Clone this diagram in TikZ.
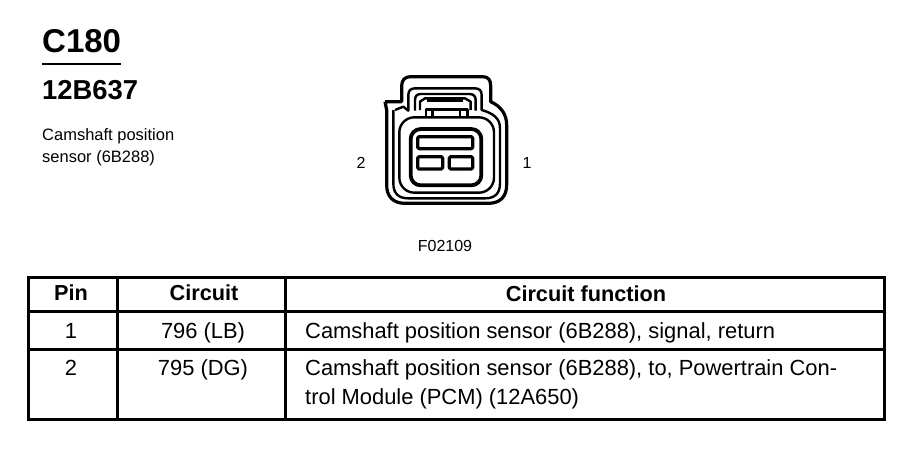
\documentclass[tikz,border=0pt]{standalone}
\usepackage{fontspec}
\setmainfont{Liberation Sans}
\tikzset{
  title/.style={font=\fontsize{33}{33}\selectfont\bfseries,anchor=base west,inner sep=0pt},
  sub/.style={font=\fontsize{27.4}{27.4}\selectfont\bfseries,anchor=base west,inner sep=0pt},
  small/.style={font=\fontsize{16.5}{16.5}\selectfont,anchor=base west,inner sep=0pt},
  tiny/.style={font=\fontsize{16}{16}\selectfont,anchor=base,inner sep=0pt},
  head/.style={font=\fontsize{21.7}{21.7}\selectfont\bfseries,anchor=base,inner sep=0pt},
  cell/.style={font=\fontsize{21.9}{21.9}\selectfont,anchor=base,inner sep=0pt},
  celll/.style={font=\fontsize{21.9}{21.9}\selectfont,anchor=base west,inner sep=0pt},
  rule/.style={line width=3pt},
  conn/.style={line width=3.2pt,line join=round},
  connt/.style={line width=2.4pt,line join=round}
}
\begin{document}
\begin{tikzpicture}[x=1pt,y=-1pt]
\useasboundingbox (0,0) rectangle (908,448);
\fill[white] (0,0) rectangle (908,448);
\node[title] (c180) at (42,52) {C180};
\draw[line width=1.6pt] (42,64) -- (121,64);
\node[sub] (code) at (42,99) {12B637};
\node[small] (cam1) at (42,140) {Camshaft position};
\node[small] (cam2) at (42,162) {sensor (6B288)};
\node[tiny] (p2) at (361,168) {2};
\node[tiny] (p1) at (527,168) {1};
\node[tiny] (fig) at (445,251) {F02109};
% connector
\begin{scope}[shift={(360,60)},x=1pt/3,y=-1pt/3]
\draw[conn] (75,125) -- (125,125) -- (125,78) .. controls (125,60) and (135,50) .. (152,50) -- (368,50) .. controls (385,50) and (392,60) .. (392,78) -- (392,125) .. controls (425,140) and (440,165) .. (440,195) -- (440,375) .. controls (440,410) and (420,430) .. (385,430) -- (135,430) .. controls (100,430) and (80,410) .. (80,375) -- (80,150) -- (75,125);
\draw[connt] (105,150) -- (130,140) -- (145,152) -- (145,105) .. controls (145,92) and (152,85) .. (165,85) -- (345,85) .. controls (358,85) and (365,92) .. (365,105) -- (365,150) .. controls (400,160) and (420,175) .. (420,205) -- (420,370) .. controls (420,400) and (405,415) .. (375,415) -- (145,415) .. controls (115,415) and (100,400) .. (100,370) -- (100,150);
\draw[connt] (165,152) -- (165,120) .. controls (165,108) and (172,102) .. (182,102) -- (328,102) .. controls (340,102) and (347,108) .. (347,120) -- (347,152);
\draw[connt] (180,150) -- (180,125) -- (195,115) -- (315,115) -- (332,125) -- (332,150);
\draw[connt] (200,122) -- (310,122);
\draw[connt] (198,172) -- (198,148) -- (322,148) -- (322,172);
\draw[connt] (218,148) -- (218,175);
\draw[connt] (300,148) -- (300,175);
\draw[connt,rounded corners=15pt] (118,172) rectangle (402,398);
\draw[conn,line width=3.8pt,rounded corners=10pt] (152,207) rectangle (364,376);
\draw[conn,rounded corners=1.3pt] (173,230) rectangle (338,266);
\draw[conn,rounded corners=1.3pt] (173,290) rectangle (248,327);
\draw[conn,rounded corners=1.3pt] (268,290) rectangle (338,327);
\end{scope}
% table
\draw[rule] (28,277) rectangle (884,419);
\draw[rule] (28,311) -- (884,311);
\draw[rule] (28,349) -- (884,349);
\draw[rule] (117,277) -- (117,419);
\draw[rule] (285,277) -- (285,419);
\node[head] (h1) at (71,300) {Pin};
\node[head] (h2) at (204,300) {Circuit};
\node[head] (h3) at (586,301) {Circuit function};
\node[cell] (a1) at (71,338) {1};
\node[cell] (b1) at (203,338) {796 (LB)};
\node[celll] (c1) at (305,338) {Camshaft position sensor (6B288), signal, return};
\node[cell] (a2) at (71,375) {2};
\node[cell] (b2) at (203,375) {795 (DG)};
\node[celll] (c2) at (305,375) {Camshaft position sensor (6B288), to, Powertrain Con-};
\node[celll] (c3) at (305,404) {trol Module (PCM) (12A650)};
\end{tikzpicture}
\end{document}
